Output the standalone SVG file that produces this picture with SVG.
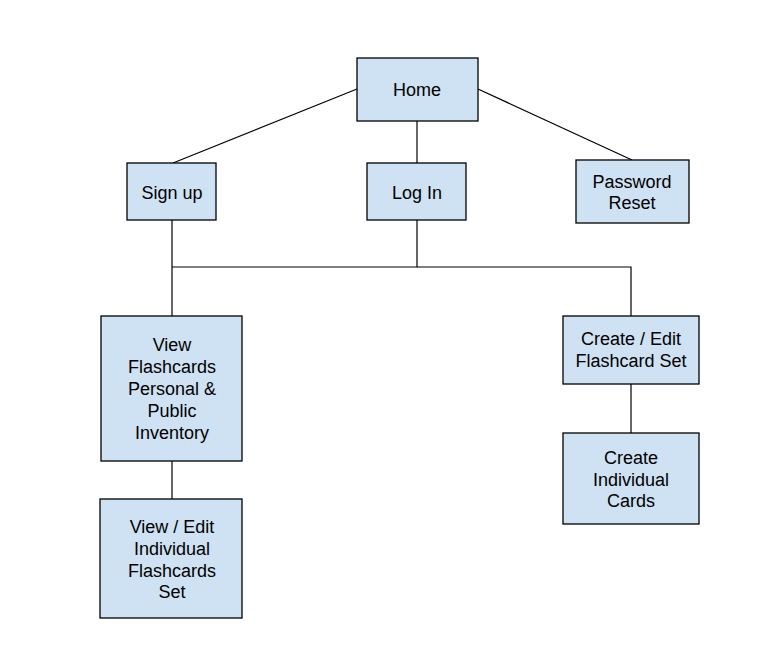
<svg xmlns="http://www.w3.org/2000/svg" width="768" height="658" viewBox="0 0 768 658">
<style>
.box{fill:#cfe2f3;stroke:#000;stroke-width:1.3}
.t{font-family:"Liberation Sans",Arial,sans-serif;font-size:18px;fill:#000;text-anchor:middle}
.c{fill:none;stroke:#000;stroke-width:1.2}
</style>
<rect width="768" height="658" fill="#fff"/>
<g id="connectors">
<line class="c" x1="357" y1="89" x2="173" y2="163"/>
<line class="c" x1="478" y1="89" x2="632" y2="160"/>
<line class="c" x1="417" y1="121" x2="417" y2="163"/>
<polyline class="c" points="172,220 172,316"/>
<polyline class="c" points="417,220 417,267 172,267"/>
<polyline class="c" points="417,267 631,267 631,316"/>
<line class="c" x1="172" y1="461" x2="172" y2="499"/>
<line class="c" x1="631" y1="384" x2="631" y2="433"/>
</g>
<g id="home"><rect class="box" x="357" y="58" width="121" height="63"/><text class="t" x="417" y="96">Home</text></g>
<g id="signup"><rect class="box" x="127" y="163" width="89" height="57"/><text class="t" x="172" y="199">Sign up</text></g>
<g id="login"><rect class="box" x="367" y="163" width="99" height="57"/><text class="t" x="417" y="199">Log In</text></g>
<g id="reset"><rect class="box" x="576" y="160" width="113" height="63"/><text class="t" x="632" y="188">Password</text><text class="t" x="632" y="209">Reset</text></g>
<g id="view"><rect class="box" x="101" y="316" width="141" height="145"/><text class="t" x="172" y="351">View</text><text class="t" x="172" y="373">Flashcards</text><text class="t" x="172" y="395">Personal &amp;</text><text class="t" x="172" y="417">Public</text><text class="t" x="172" y="439">Inventory</text></g>
<g id="viewedit"><rect class="box" x="100" y="499" width="142" height="119"/><text class="t" x="172" y="533">View / Edit</text><text class="t" x="172" y="555">Individual</text><text class="t" x="172" y="577">Flashcards</text><text class="t" x="172" y="598">Set</text></g>
<g id="createset"><rect class="box" x="563" y="316" width="136" height="68"/><text class="t" x="631" y="345">Create / Edit</text><text class="t" x="631" y="367">Flashcard Set</text></g>
<g id="createcards"><rect class="box" x="563" y="433" width="136" height="91"/><text class="t" x="631" y="464">Create</text><text class="t" x="631" y="486">Individual</text><text class="t" x="631" y="507">Cards</text></g>
</svg>
